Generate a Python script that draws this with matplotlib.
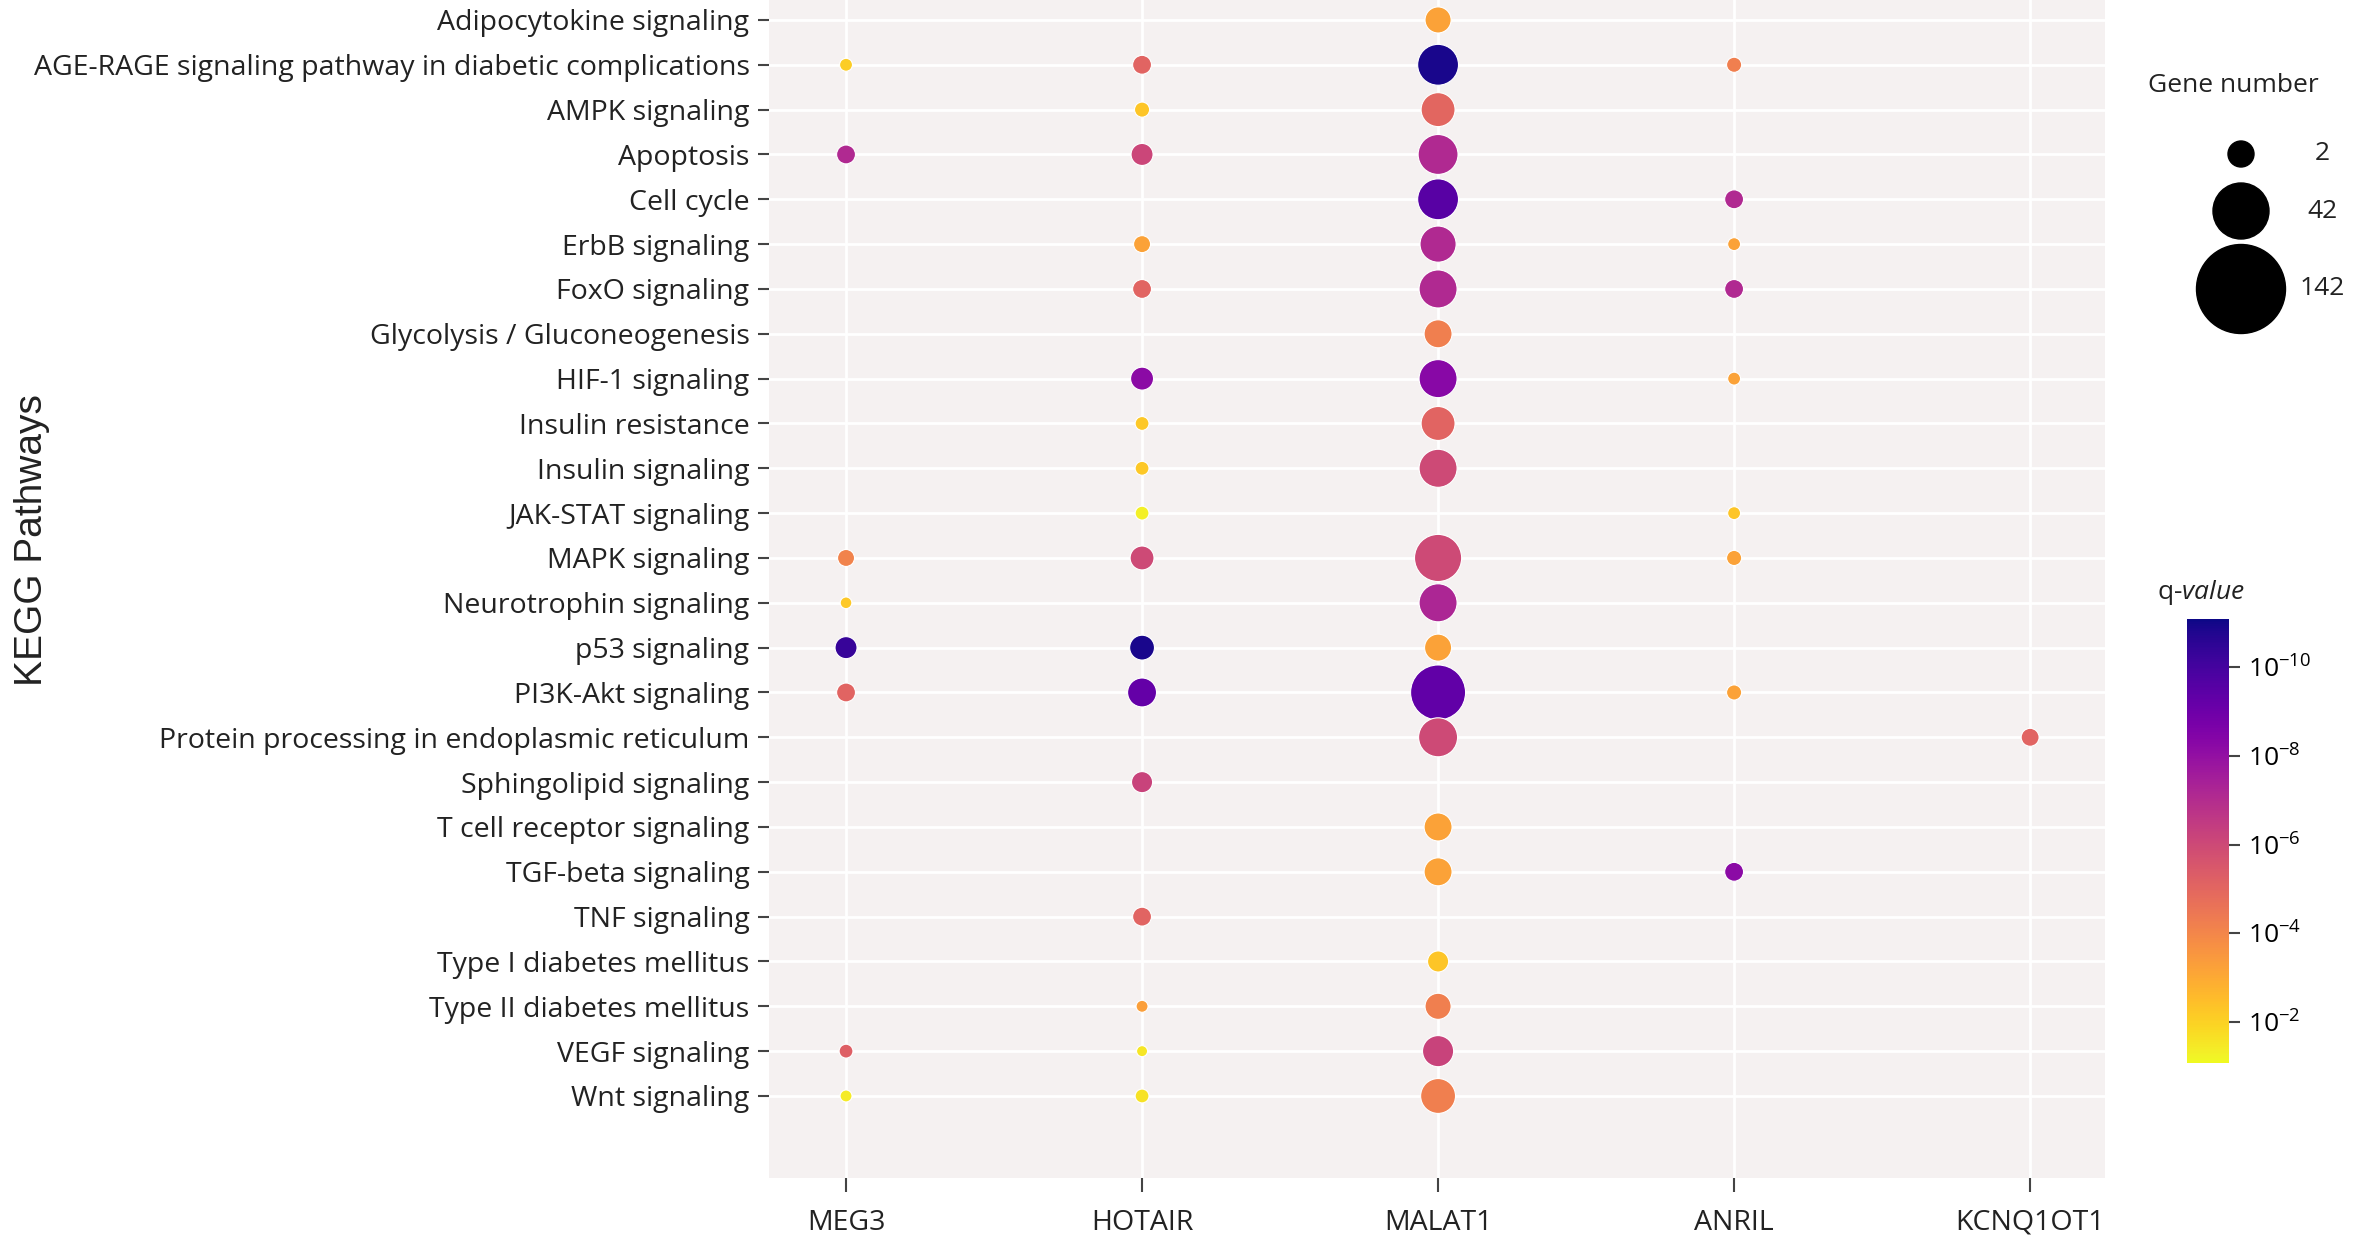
import matplotlib
matplotlib.use("Agg")
import matplotlib.pyplot as plt
import numpy as np
from matplotlib.colors import LogNorm

plt.rcParams['font.family'] = ['Open Sans', 'DejaVu Sans']
plt.rcParams['mathtext.fontset'] = 'custom'
plt.rcParams['mathtext.rm'] = 'Open Sans'
plt.rcParams['mathtext.it'] = 'Open Sans:italic'

pathways = [
    "Adipocytokine signaling",
    "AGE-RAGE signaling pathway in diabetic complications",
    "AMPK signaling",
    "Apoptosis",
    "Cell cycle",
    "ErbB signaling",
    "FoxO signaling",
    "Glycolysis / Gluconeogenesis",
    "HIF-1 signaling",
    "Insulin resistance",
    "Insulin signaling",
    "JAK-STAT signaling",
    "MAPK signaling",
    "Neurotrophin signaling",
    "p53 signaling",
    "PI3K-Akt signaling",
    "Protein processing in endoplasmic reticulum",
    "Sphingolipid signaling",
    "T cell receptor signaling",
    "TGF-beta signaling",
    "TNF signaling",
    "Type I diabetes mellitus",
    "Type II diabetes mellitus",
    "VEGF signaling",
    "Wnt signaling",
]
lncrnas = ["MEG3", "HOTAIR", "MALAT1", "ANRIL", "KCNQ1OT1"]

# one entry per dot
point_lncrna = (["MEG3"] * 8 + ["HOTAIR"] * 17 + ["MALAT1"] * 22
                + ["ANRIL"] * 9 + ["KCNQ1OT1"])
point_pathway = [
    # MEG3
    "AGE-RAGE signaling pathway in diabetic complications", "Apoptosis",
    "MAPK signaling", "Neurotrophin signaling", "p53 signaling",
    "PI3K-Akt signaling", "VEGF signaling", "Wnt signaling",
    # HOTAIR
    "AGE-RAGE signaling pathway in diabetic complications", "AMPK signaling",
    "Apoptosis", "ErbB signaling", "FoxO signaling", "HIF-1 signaling",
    "Insulin resistance", "Insulin signaling", "JAK-STAT signaling",
    "MAPK signaling", "p53 signaling", "PI3K-Akt signaling",
    "Sphingolipid signaling", "TNF signaling", "Type II diabetes mellitus",
    "VEGF signaling", "Wnt signaling",
    # MALAT1
    "Adipocytokine signaling",
    "AGE-RAGE signaling pathway in diabetic complications", "AMPK signaling",
    "Apoptosis", "Cell cycle", "ErbB signaling", "FoxO signaling",
    "Glycolysis / Gluconeogenesis", "HIF-1 signaling", "Insulin resistance",
    "Insulin signaling", "MAPK signaling", "Neurotrophin signaling",
    "p53 signaling", "PI3K-Akt signaling",
    "Protein processing in endoplasmic reticulum",
    "T cell receptor signaling", "TGF-beta signaling",
    "Type I diabetes mellitus", "Type II diabetes mellitus", "VEGF signaling",
    "Wnt signaling",
    # ANRIL
    "AGE-RAGE signaling pathway in diabetic complications", "Cell cycle",
    "ErbB signaling", "FoxO signaling", "HIF-1 signaling",
    "JAK-STAT signaling", "MAPK signaling", "PI3K-Akt signaling",
    "TGF-beta signaling",
    # KCNQ1OT1
    "Protein processing in endoplasmic reticulum",
]
gene_counts = [
    8, 27, 21, 4, 37, 27, 11, 5,
    27, 15, 37, 21, 27, 40, 11, 11, 11, 43, 46, 59, 34, 27, 5, 2, 11,
    50, 97, 75, 94, 97, 82, 88, 56, 88, 75, 88, 117, 88, 53, 142, 91, 56,
    56, 34, 50, 66, 78,
    15, 27, 8, 27, 8, 8, 15, 15, 27,
    24,
]
q_values = [
    8e-3, 8e-8, 8e-5, 6e-3, 5e-11, 8e-6, 6e-6, 4e-2,
    8e-6, 5e-3, 8e-7, 6e-4, 8e-6, 6e-9, 6e-3, 6e-3, 5e-2, 1e-6, 1.3e-11,
    6e-10, 6e-7, 8e-6, 5e-4, 3e-2, 2.5e-2,
    6e-4, 1.3e-11, 1e-5, 8e-8, 3e-10, 8e-8, 8e-8, 6e-5, 5e-9, 8e-6, 1e-6,
    1e-6, 6e-8, 6e-4, 5e-10, 1e-6, 6e-4, 6e-4, 5e-3, 6e-5, 6e-7, 6e-5,
    6e-5, 8e-8, 6e-4, 8e-8, 6e-4, 5e-3, 6e-4, 6e-4, 6e-9,
    8e-6,
]
legend_counts = [2, 42, 142]


def dot_size(n):
    d_px = 10.4 + 0.314 * np.asarray(n, dtype=float)
    return (d_px * 0.72) ** 2


fig = plt.figure(figsize=(23.62, 12.36), dpi=100)
ax = fig.add_axes([0.3256, 0.0469, 0.5656, 0.9531])
ax.set_facecolor('#f5f1f1')

xs = [lncrnas.index(g) for g in point_lncrna]
ys = [pathways.index(p) for p in point_pathway]
norm = LogNorm(vmin=10 ** -11.08, vmax=10 ** -1.08)
sc = ax.scatter(xs, ys, s=dot_size(gene_counts), c=q_values, cmap='plasma',
                norm=norm, edgecolors='white', linewidths=0.8, zorder=3)

ax.set_xticks(range(len(lncrnas)))
ax.set_xticklabels(lncrnas, fontsize=20.5, color='#222222')
ax.set_yticks(range(len(pathways)))
ax.set_yticklabels(pathways, fontsize=20.5, color='#222222')
ax.set_xlim(-0.26, 4.253)
ax.set_ylim(24 + 1.83, -0.445)
ax.grid(True, color='white', linewidth=2)
ax.set_axisbelow(True)
for sp in ax.spines.values():
    sp.set_visible(False)
ax.tick_params(axis='y', length=8, width=1.5, color='#444444', pad=6)
ax.tick_params(axis='x', length=10, width=1.5, color='#444444', pad=12)

fig.text(0.0135, 0.563, "KEGG Pathways", rotation=90, fontsize=28,
         family='Liberation Sans', va='center', ha='center', color='#222222')

# colour bar
cax = fig.add_axes([0.9259, 0.1400, 0.0178, 0.3592])
cb = fig.colorbar(sc, cax=cax)
cb.outline.set_visible(False)
cb.set_ticks([1e-10, 1e-8, 1e-6, 1e-4, 1e-2])
cb.set_ticklabels([r"10$^{-10}$", r"10$^{-8}$", r"10$^{-6}$", r"10$^{-4}$",
                   r"10$^{-2}$"])
cb.ax.minorticks_off()
cb.ax.invert_yaxis()
cb.ax.tick_params(length=8, width=1.5, color='#444444', labelsize=19, pad=6)
fig.text(0.9318, 0.521, r"q-$\it{value}$", fontsize=19, ha='center',
         va='center', color='#222222')

# size legend
lax = fig.add_axes([2150 / 2362, 1 - 340 / 1236, 212 / 2362, 220 / 1236])
lax.set_xlim(0, 212)
lax.set_ylim(340, 120)
lax.axis('off')
leg_y = [154, 211, 289]
leg_d = [26, 56, 89]
lax.scatter([91] * 3, leg_y, s=[(d * 0.72) ** 2 for d in leg_d], c='black')
for y, n in zip(leg_y, legend_counts):
    lax.text(172, y, str(n), fontsize=19, ha='center', va='center',
             color='#222222')
fig.text(2233 / 2362, 1 - 86 / 1236, "Gene number", fontsize=19,
         ha='center', va='center', color='#222222')

fig.savefig("out.png", dpi=100)
